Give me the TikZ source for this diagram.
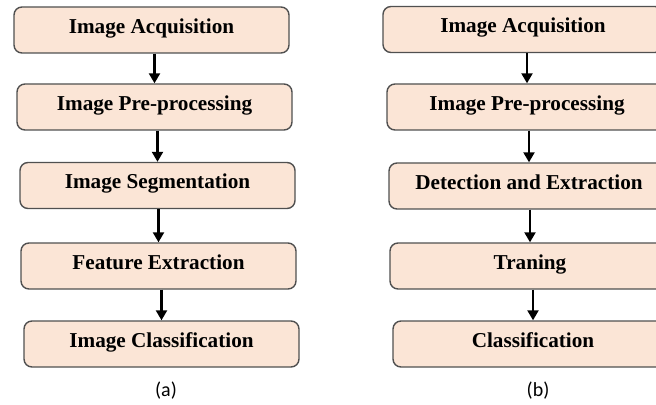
\documentclass[tikz,border=0pt]{standalone}
\usepackage{fontspec}
\setmainfont{Liberation Serif}
\newfontfamily\capfont{Carlito}
\usepackage{tikz}
\usetikzlibrary{arrows.meta}
\definecolor{boxfill}{HTML}{FBE5D6}
\definecolor{boxline}{HTML}{505050}
\tikzset{>={Triangle[width=5.5pt,length=5pt]}}
\tikzset{stage/.style={draw=boxline,fill=boxfill,line width=0.7pt,rounded corners=4pt,
    minimum width=137.5pt,minimum height=23pt,inner sep=0pt,text height=7pt,text depth=3.5pt,
    font=\bfseries\fontsize{10.6}{12}\selectfont}}

\begin{document}
\begin{tikzpicture}[x=0.5pt,y=-0.5pt]
            \clip (0,0) rectangle (656,405);
            % (a)
            \node[stage] (a1) at (151.5,30) {Image Acquisition};
            \node[stage] (a2) at (154.5,107) {Image Pre-processing};
            \node[stage] (a3) at (157.5,185.5) {Image Segmentation};
            \node[stage] (a4) at (158.5,266) {Feature Extraction};
            \node[stage] (a5) at (161.5,344) {Image Classification};
            % (b)
            \node[stage,minimum width=140pt] (b1) at (523,29.5) {Image Acquisition};
            \node[stage,minimum width=140pt] (b2) at (527,107) {Image Pre-processing};
            \node[stage,minimum width=140pt] (b3) at (529,186) {Detection and Extraction};
            \node[stage,minimum width=140pt] (b4) at (530,266) {Traning};
            \node[stage,minimum width=140pt] (b5) at (533,344) {Classification};
            \foreach \u/\v in {a1/a2,a2/a3,a3/a4,a4/a5,b1/b2,b2/b3,b3/b4,b4/b5}
                \draw[->,line width=1.1pt] (\v.north |- \u.south) -- (\v.north);
            \node[font=\capfont\fontsize{10}{12}\selectfont] (capa) at (166,391) {(a)};
            \node[font=\capfont\fontsize{10}{12}\selectfont] (capb) at (538,391) {(b)};
        \end{tikzpicture}
\end{document}
